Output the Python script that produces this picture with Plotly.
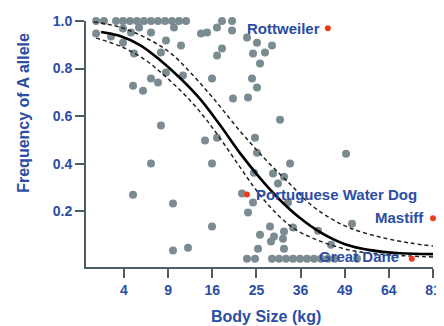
import numpy as np
import plotly.graph_objects as go

# ---- data (body size in kg, frequency of A allele) ----
dog_kg = [1.87, 2.39, 3.31, 3.91, 4.56, 5.27, 6.02, 6.82, 7.67, 8.58, 9.53, 10.54, 11.59, 17.81, 19.78,
          1.87, 2.91, 3.91, 4.66, 5.48, 6.82, 3.91, 4.96, 9.81, 8.71, 10.83, 8.05, 14.02, 15.06,
          8.71, 6.82, 7.67, 4.86, 5.91, 11.13, 8.05, 16.87, 19.78, 22.91, 25.13, 28.65, 24.23,
          26.98, 17.81, 16.87, 25.82, 15.95, 24.01, 25.13, 19.97, 23.13, 30.63, 14.71, 16.87,
          24.68, 25.13, 6.82, 4.86, 9.67, 9.67, 11.90, 15.95, 15.95, 21.84, 24.23, 23.13, 24.45,
          28.90, 31.64, 30.13, 33.19, 32.66, 28.17, 25.82, 29.14, 31.64, 33.98, 28.41, 31.38,
          25.36, 31.64, 49.42, 51.34, 40.90, 44.76,
          22.91, 24.68, 28.65, 30.38, 32.15, 33.98, 35.84, 37.77, 39.74, 41.77, 43.85, 45.97, 52.98]
dog_freq = [1.0, 1.0, 1.0, 1.0, 1.0, 1.0, 1.0, 1.0, 1.0, 1.0, 1.0, 1.0, 1.0, 1.0, 1.0,
            0.947, 0.935, 0.968, 0.952, 0.973, 0.952, 0.909, 0.863, 0.973, 0.918, 0.897, 0.867, 0.947, 0.952,
            0.783, 0.758, 0.741, 0.728, 0.707, 0.771, 0.560, 0.973, 0.960, 0.931, 0.909, 0.897, 0.863,
            0.867, 0.884, 0.855, 0.821, 0.758, 0.758, 0.720, 0.674, 0.678, 0.585, 0.497, 0.509,
            0.509, 0.446, 0.400, 0.269, 0.232, 0.034, 0.046, 0.400, 0.135, 0.274, 0.236, 0.194, 0.362,
            0.358, 0.345, 0.316, 0.400, 0.236, 0.135, 0.101, 0.093, 0.114, 0.131, 0.072, 0.084,
            0.042, 0.042, 0.442, 0.147, 0.118, 0.059,
            0.0, 0.0, 0.0, 0.0, 0.0, 0.0, 0.0, 0.0, 0.0, 0.0, 0.0, 0.0, 0.0]

named_breeds = ["Rottweiler", "Portuguese Water Dog", "Mastiff", "Great Dane"]
named_kg = [43.8, 22.9, 81.0, 72.6]
named_freq = [0.97, 0.27, 0.17, 0.0]

fit_kg = [2.19, 3.65, 5.58, 7.93, 10.69, 13.85, 17.43, 21.42, 25.82, 30.63, 35.85, 41.48, 49.10, 57.35, 68.11, 81.0]
fit_freq = [0.954, 0.937, 0.899, 0.836, 0.760, 0.672, 0.562, 0.444, 0.339, 0.247, 0.171, 0.112, 0.061, 0.036, 0.023, 0.019]

upper_kg = [1.74, 3.56, 6.02, 9.12, 12.22, 16.13, 21.42, 27.22, 33.19, 38.61, 44.45, 50.69, 60.84, 71.91, 81.0]
upper_freq = [0.996, 0.975, 0.933, 0.870, 0.785, 0.676, 0.537, 0.415, 0.314, 0.230, 0.171, 0.129, 0.091, 0.066, 0.053]

lower_kg = [1.87, 3.65, 6.02, 8.58, 11.59, 14.71, 17.81, 21.42, 25.13, 29.39, 34.51, 41.48, 50.69, 60.84, 71.91, 81.0]
lower_freq = [0.928, 0.894, 0.840, 0.768, 0.684, 0.592, 0.495, 0.385, 0.284, 0.196, 0.124, 0.074, 0.036, 0.019, 0.011, 0.007]

x_ticks_kg = [4, 9, 16, 25, 36, 49, 64, 81]
y_ticks = [0.2, 0.4, 0.6, 0.8, 1.0]
y_tick_labels = ["0.2", "0.4", "0.6", "0.8", "1.0"]

BLUE = "#2B4DA3"
AXIS = "#4f5c63"
FONT = "Liberation Sans, Arial, sans-serif"

sq = lambda v: np.sqrt(np.asarray(v, dtype=float))

fig = go.Figure()
fig.add_trace(go.Scatter(x=sq(dog_kg), y=dog_freq, mode="markers",
                         marker=dict(size=8, color="#7a8b92"), cliponaxis=False, hoverinfo="skip"))
fig.add_trace(go.Scatter(x=sq(upper_kg), y=upper_freq, mode="lines", line_shape="spline",
                         line=dict(color="#222", width=1.5, dash="4px,3px"), hoverinfo="skip"))
fig.add_trace(go.Scatter(x=sq(lower_kg), y=lower_freq, mode="lines", line_shape="spline",
                         line=dict(color="#222", width=1.5, dash="4px,3px"), hoverinfo="skip"))
fig.add_trace(go.Scatter(x=sq(fit_kg), y=fit_freq, mode="lines", line_shape="spline",
                         line=dict(color="#000", width=2.6), hoverinfo="skip"))
fig.add_trace(go.Scatter(x=sq(named_kg), y=named_freq, mode="markers",
                         marker=dict(size=6, color="#ee3b1c"), cliponaxis=False, hoverinfo="skip"))

label_cfg = {
    "Rottweiler": dict(xanchor="right", xshift=-6, yshift=0),
    "Portuguese Water Dog": dict(xanchor="left", xshift=7, yshift=0),
    "Mastiff": dict(xanchor="right", xshift=-7, yshift=1),
    "Great Dane": dict(xanchor="right", xshift=-11, yshift=2),
}
for name, kg, fr in zip(named_breeds, named_kg, named_freq):
    c = label_cfg[name]
    fig.add_annotation(x=float(np.sqrt(kg)), y=fr, text=f"<b>{name}</b>", showarrow=False,
                       xanchor=c["xanchor"], yanchor="middle", xshift=c["xshift"], yshift=c["yshift"],
                       font=dict(family=FONT, size=15, color=BLUE))

fig.add_annotation(xref="paper", yref="paper", x=-0.18, y=0.625, text="<b>Frequency of A allele</b>",
                   textangle=-90, showarrow=False, xanchor="center", yanchor="middle",
                   font=dict(family=FONT, size=16, color=BLUE))
fig.add_annotation(xref="paper", yref="paper", x=0.52, y=-0.2, text="<b>Body Size (kg)</b>",
                   showarrow=False, xanchor="center", yanchor="middle",
                   font=dict(family=FONT, size=16, color=BLUE))

# the page body has an 8px margin, so the figure is offset by (8, 8) in the window
fig.update_layout(
    width=436, height=318,
    margin=dict(l=78, r=11, t=13, b=59),
    paper_bgcolor="white", plot_bgcolor="white",
    showlegend=False,
    font=dict(family=FONT, color=BLUE),
    xaxis=dict(range=[1.139, 9.0], tickvals=list(sq(x_ticks_kg)), ticktext=[f"<b>{t}</b>" for t in x_ticks_kg],
               showgrid=False, zeroline=False, showline=True, linecolor=AXIS, linewidth=2,
               ticks="outside", ticklen=9, tickwidth=2, tickcolor=AXIS, automargin=False,
               tickfont=dict(family=FONT, size=14, color=BLUE)),
    yaxis=dict(range=[-0.035, 1.0], tickvals=y_ticks, ticktext=[f"<b>{t}</b>" for t in y_tick_labels],
               showgrid=False, zeroline=False, showline=True, linecolor=AXIS, linewidth=2,
               ticks="outside", ticklen=9, tickwidth=2, tickcolor=AXIS, automargin=False,
               tickfont=dict(family=FONT, size=14, color=BLUE)),
)

fig.write_html("out.html")
